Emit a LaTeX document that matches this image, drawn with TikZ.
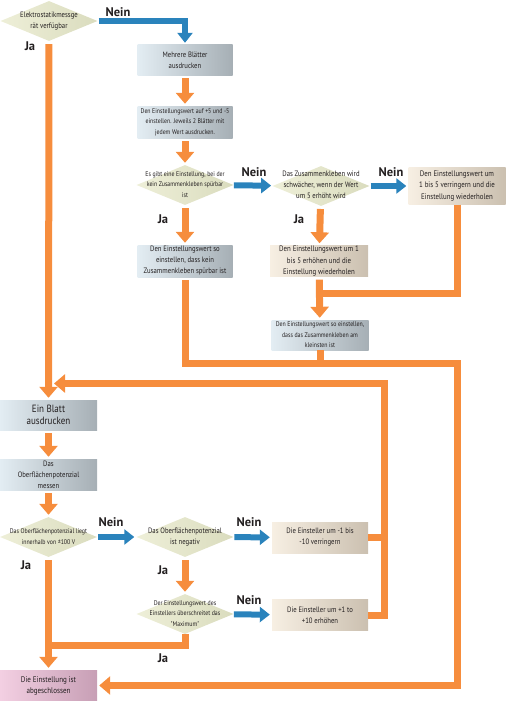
\documentclass[tikz,border=0pt]{standalone}
\usepackage{fontspec}
\setmainfont{PT Sans}
\newfontfamily\narrowfont[FakeStretch=0.86]{PT Sans}
\usetikzlibrary{arrows.meta,shapes.geometric,calc}
\definecolor{ink}{HTML}{231F20}
\definecolor{flowor}{HTML}{F68D3D}
\definecolor{noblue}{HTML}{2A83BC}
\definecolor{bluel}{HTML}{E3EDF3}
\definecolor{bluer}{HTML}{A6AFB5}
\definecolor{beigel}{HTML}{F7EFE3}
\definecolor{beiger}{HTML}{CBC0B0}
\definecolor{pinkl}{HTML}{F3CFE2}
\definecolor{pinkr}{HTML}{C79FB5}
\definecolor{diaml}{HTML}{EEEFD8}
\definecolor{diamr}{HTML}{DADCBE}
% text of a decision, kept out of the diamond's size
\newcommand{\dtext}[1]{\makebox[0pt]{\smash{\raisebox{-1.5pt}{\begin{tabular}{@{}c@{}}#1\end{tabular}}}}}

\begin{document}
\begin{tikzpicture}[
  x=1pt,y=-1pt,
  font=\narrowfont\fontsize{7.8}{11}\selectfont,
  stepbox/.style={rectangle,inner sep=0pt,align=center,text=ink},
  bluebox/.style={stepbox,left color=bluel,right color=bluer},
  beigebox/.style={stepbox,left color=beigel,right color=beiger},
  pinkbox/.style={stepbox,left color=pinkl,right color=pinkr},
  query/.style={diamond,inner sep=0pt,minimum width=97pt,minimum height=40pt,
                left color=diaml,right color=diamr,text=ink},
  tinytext/.style={font=\narrowfont\fontsize{6.8}{10.5}\selectfont},
  flow/.style={draw=flowor,line width=7pt,-{Triangle[width=18pt,length=11pt]},
               shorten <=3pt,shorten >=2pt},
  flowline/.style={draw=flowor,line width=7pt},
  nein/.style={draw=noblue,line width=6pt,-{Triangle[width=15pt,length=10pt]},
               shorten <=1pt,shorten >=2pt},
  answer/.style={font=\bfseries\fontsize{12.5}{13}\selectfont,text=ink}
]
\useasboundingbox (0,0) rectangle (510,701);

% -------------------------------------------------------------------------
% Upper part: finding the setting.
\node[query] (qmeter) at (49,21) {\dtext{Elektrostatikmessge\\rät verfügbar}};
\node[bluebox,minimum width=95pt,minimum height=30pt] (sheets) at (185,60)
  {Mehrere Blätter\\ausdrucken};
\node[bluebox,tinytext,minimum width=95pt,minimum height=32pt] (plusminus) at (185,122)
  {Den Einstellungswert auf +5 und -5\\einstellen. Jeweils 2 Blätter mit\\jedem Wert ausdrucken.};
\node[query,tinytext] (qnone) at (185,185)
  {\dtext{Es gibt eine Einstellung, bei der\\kein Zusammenkleben spürbar\\ist}};
\node[query] (qweaker) at (321,186)
  {\dtext{Das Zusammenkleben wird\\schwächer, wenn der Wert\\um 5 erhöht wird}};
\node[beigebox,font=\narrowfont\fontsize{8}{11.5}\selectfont,
      minimum width=97pt,minimum height=37pt] (lower) at (457,186)
  {Den Einstellungswert um\\1 bis 5 verringern und die\\Einstellung wiederholen};
\node[bluebox,minimum width=95pt,minimum height=32pt] (nostick) at (185,261)
  {Den Einstellungswert so\\einstellen, dass kein\\Zusammenkleben spürbar ist};
\node[beigebox,font=\narrowfont\fontsize{8}{11.5}\selectfont,
      minimum width=98pt,minimum height=31pt] (raise) at (319,261)
  {Den Einstellungswert um 1\\bis 5 erhöhen und die\\Einstellung wiederholen};
\node[bluebox,tinytext,minimum width=97pt,minimum height=30pt] (least) at (320,335)
  {Den Einstellungswert so einstellen,\\dass das Zusammenkleben am\\kleinsten ist};

% -------------------------------------------------------------------------
% Lower part: checking the surface potential.
\node[bluebox,font=\narrowfont\fontsize{10.5}{12}\selectfont,
      minimum width=97pt,minimum height=30pt] (print) at (48.5,415)
  {Ein Blatt\\ausdrucken};
\node[bluebox,minimum width=97pt,minimum height=31pt] (measure) at (48.5,474.5)
  {Das\\Oberflächenpotenzial\\messen};
\node[query,tinytext] (qrange) at (48.5,537)
  {\dtext{Das Oberflächenpotenzial liegt\\innerhalb von ±100 V}};
\node[query] (qneg) at (185,537)
  {\dtext{Das Oberflächenpotenzial\\ist negativ}};
\node[beigebox,minimum width=96pt,minimum height=31pt] (down) at (320,537.5)
  {Die Einsteller um -1 bis\\-10 verringern};
\node[query,tinytext] (qmax) at (185,614)
  {\dtext{Der Einstellungswert des\\Einstellers überschreitet das\\"Maximum"}};
\node[beigebox,minimum width=96pt,minimum height=31pt] (up) at (320,615)
  {Die Einsteller um +1 to\\+10 erhöhen};
\node[pinkbox,font=\narrowfont\fontsize{8.2}{11}\selectfont,
      minimum width=97pt,minimum height=31pt] (done) at (48.5,685.5)
  {Die Einstellung ist\\abgeschlossen};

% Junction points.
\coordinate (merge) at (457,363.5);
\coordinate (loop) at (384.5,383.5);
\coordinate (lowjoin) at (185,645);
\coordinate (highjoin) at (320,293);

% -------------------------------------------------------------------------
% Connectors.
\draw[nein] (qmeter.east) -| (sheets.north);
\draw[flow] (sheets) -- (plusminus);
\draw[flow] (plusminus) -- (qnone);
\draw[nein] (qnone) -- (qweaker);
\draw[nein] (qweaker) -- (lower);
\draw[flow] (qnone) -- (nostick);
\draw[flow] (qweaker) -- (raise);
\draw[flow] (raise) -- (least);
\draw[flowline] (lower.south) |- (highjoin);
\draw[flowline] (least.south) -- (least.south |- merge);
\draw[flow,shorten <=3pt,shorten >=2pt] (nostick.south) |- (merge) |- (done.east);

\draw[flow] (qmeter.south) -- (print.north);
\draw[flow] (print) -- (measure);
\draw[flow] (measure) -- (qrange);
\draw[nein] (qrange) -- (qneg);
\draw[nein] (qneg) -- (down);
\draw[flow] (qneg) -- (qmax);
\draw[nein] (qmax) -- (up);
\draw[flow] (qrange) -- (done);
\draw[flowline] (qmax.south) |- (lowjoin -| qrange.south);
\draw[flowline] (down.east) -- (down.east -| loop);
\draw[flow,shorten <=0pt,shorten >=5pt] (up.east) -| (loop) -- (loop -| qmeter.south);

% Answers.
\node[answer] at (118,12) {Nein};
\node[answer] at (30,46) {Ja};
\node[answer] at (254,172) {Nein};
\node[answer] at (163,219) {Ja};
\node[answer] at (391,172) {Nein};
\node[answer] at (299,219) {Ja};
\node[answer] at (111,522) {Nein};
\node[answer] at (26,565) {Ja};
\node[answer] at (249,522) {Nein};
\node[answer] at (163,570) {Ja};
\node[answer] at (249,600) {Nein};
\node[answer] at (163,658) {Ja};

\end{tikzpicture}
\end{document}
